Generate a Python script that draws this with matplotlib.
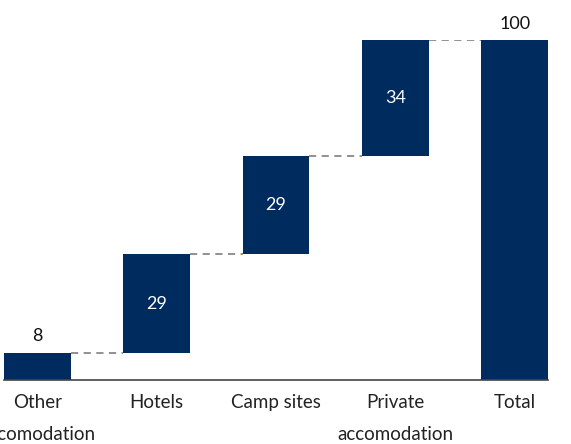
import numpy as np
import matplotlib.pyplot as plt

categories = ["Other\naccomodation", "Hotels", "Camp sites", "Private\naccomodation", "Total"]
values = [8, 29, 29, 34, 100]
is_total = [False, False, False, False, True]

navy = "#002b5e"

plt.rcParams['font.family'] = ['Lato', 'DejaVu Sans']

fig = plt.figure(figsize=(5.71, 4.44), dpi=100)
ax = fig.add_axes([4 / 571, 64 / 444, 544 / 571, 340 / 444])

x = np.arange(len(values))
w = 0.56
bottoms = []
running = 0
for v, t in zip(values, is_total):
    if t:
        bottoms.append(0)
    else:
        bottoms.append(running)
        running += v
bottoms = np.array(bottoms)
tops = bottoms + np.array(values)

ax.bar(x, values, w, bottom=bottoms, color=navy, zorder=2)

# connectors
for i in range(len(values) - 1):
    ax.plot([x[i] + w / 2, x[i + 1] - w / 2], [tops[i], tops[i]],
            ls=(0, (4, 3)), color="#888888", lw=1.3, zorder=1)

# labels
for i, v in enumerate(values):
    if v < 15 or is_total[i]:
        ax.text(x[i], tops[i] + 2.5, str(v), ha="center", va="bottom",
                fontsize=13, color="#111111")
    else:
        ax.text(x[i], bottoms[i] + v / 2, str(v), ha="center", va="center",
                fontsize=13, color="white")

ax.set_xlim(-w / 2, len(values) - 1 + w / 2)
ax.set_ylim(0, 100)
ax.set_yticks([])
ax.set_xticks(x)
ax.set_xticklabels(categories, fontsize=13.5, linespacing=2.05, color="#222222")
ax.tick_params(axis="x", length=0, pad=10)
for s in ["top", "right", "left"]:
    ax.spines[s].set_visible(False)
ax.spines["bottom"].set_color("#444444")
ax.spines["bottom"].set_linewidth(1.2)

fig.savefig("out.png", dpi=100)
